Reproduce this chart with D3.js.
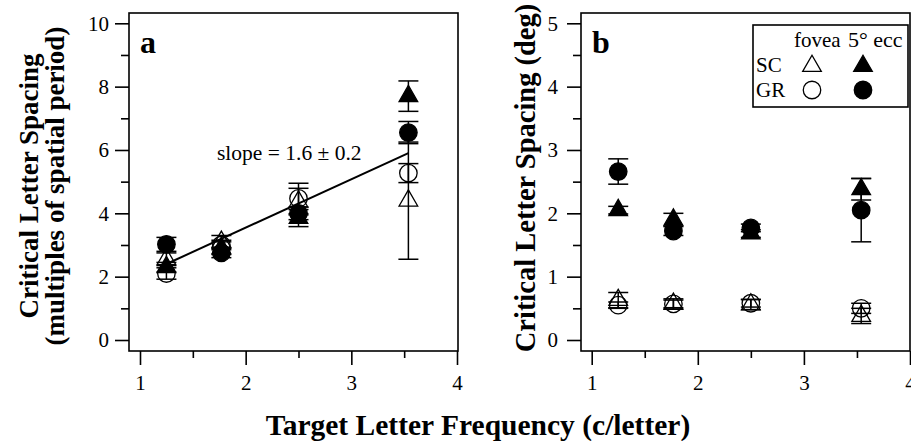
<!DOCTYPE html>
<html>
<head>
<meta charset="utf-8">
<script src="https://cdn.jsdelivr.net/npm/d3@7"></script>
<style>
  body { margin: 0; background: #fff; }
  svg { display: block; font-family: "Liberation Serif", serif; }
</style>
</head>
<body>
<svg id="chart" width="911" height="441"></svg>
<script>
// target letter frequencies (c/letter)
let freq = [1.25, 1.77, 2.5, 3.54];

// panel a: critical spacing in multiples of spatial period
let aScFovea = [2.55, 3.1, 4.37, 4.4],   aScFoveaErr = [0.2, 0.2, 0.42, 1.85];
let aSc5     = [2.3, 2.9, 3.85, 7.7],    aSc5Err     = [0.15, 0.2, 0.27, 0.48];
let aGrFovea = [2.1, 3.0, 4.47, 5.27],   aGrFoveaErr = [0.18, 0.15, 0.48, 0.3];
let aGr5     = [3.02, 2.75, 4.0, 6.55],  aGr5Err     = [0.22, 0.15, 0.2, 0.35];
let aFit = [[1.25, 2.4], [3.54, 5.9]];

// panel b: critical spacing in deg
let bScFovea = [0.63, 0.57, 0.56, 0.38], bScFoveaErr = [0.12, 0.08, 0.08, 0.12];
let bSc5     = [2.05, 1.9, 1.68, 2.38],  bSc5Err     = [0.06, 0.1, 0.06, 0.17];
let bGrFovea = [0.55, 0.57, 0.58, 0.5],  bGrFoveaErr = [0.05, 0.06, 0.06, 0.08];
let bGr5     = [2.66, 1.72, 1.77, 2.05], bGr5Err     = [0.2, 0.07, 0.06, 0.5];

let xTicks = [1, 2, 3, 4], xMinor = [1.5, 2.5, 3.5];

let svg = d3.select("#chart");

function drawPanel(p) {
  let x = d3.scaleLinear().domain([1, 4]).range(p.xRange);
  let y = d3.scaleLinear().domain([0, p.yMax]).range([340, 23.3]);
  let g = svg.append("g");

  // x ticks
  g.append("g").attr("transform", "translate(0," + p.bottom + ")")
      .call(d3.axisBottom(x).tickValues(xTicks).tickSize(14).tickPadding(10).tickFormat(d3.format("d")))
      .call(a => a.select(".domain").remove());
  g.append("g").attr("transform", "translate(0," + p.bottom + ")")
      .call(d3.axisBottom(x).tickValues(xMinor).tickSize(7).tickFormat(""))
      .call(a => a.select(".domain").remove());

  // y ticks
  g.append("g").attr("transform", "translate(" + p.left + ",0)")
      .call(d3.axisLeft(y).tickValues(d3.range(0, p.yMax + 0.01, p.yStep)).tickSize(14).tickPadding(p.yPad).tickFormat(d3.format("d")))
      .call(a => a.select(".domain").remove());
  g.append("g").attr("transform", "translate(" + p.left + ",0)")
      .call(d3.axisLeft(y).tickValues(d3.range(p.yStep / 2, p.yMax, p.yStep)).tickSize(8).tickFormat(""))
      .call(a => a.select(".domain").remove());

  g.selectAll("g").attr("font-family", null).attr("font-size", null);
  g.selectAll(".tick line").attr("stroke", "#000").attr("stroke-width", 1.6);
  g.selectAll(".tick text").attr("font-size", 21).attr("fill", "#000");

  // frame
  g.append("rect")
      .attr("x", p.left).attr("y", p.top)
      .attr("width", p.right - p.left).attr("height", p.bottom - p.top)
      .attr("fill", "none").attr("stroke", "#000").attr("stroke-width", 1.6);

  // fit line
  if (p.fit) {
    g.append("path")
        .attr("d", d3.line().x(d => x(d[0])).y(d => y(d[1]))(p.fit))
        .attr("fill", "none").attr("stroke", "#000").attr("stroke-width", 2);
  }

  p.series.forEach(s => {
    let pts = freq.map((f, i) => ({ f: f, v: s.vals[i], e: s.err[i] }));
    let eb = g.append("g").attr("stroke", "#000").attr("stroke-width", 1.5);
    eb.selectAll(".v").data(pts).join("line")
        .attr("x1", d => x(d.f)).attr("x2", d => x(d.f))
        .attr("y1", d => y(d.v - d.e)).attr("y2", d => y(d.v + d.e));
    eb.selectAll(".c1").data(pts).join("line").attr("class", "c1")
        .attr("x1", d => x(d.f) - 10).attr("x2", d => x(d.f) + 10)
        .attr("y1", d => y(d.v + d.e)).attr("y2", d => y(d.v + d.e));
    eb.selectAll(".c2").data(pts).join("line").attr("class", "c2")
        .attr("x1", d => x(d.f) - 10).attr("x2", d => x(d.f) + 10)
        .attr("y1", d => y(d.v - d.e)).attr("y2", d => y(d.v - d.e));
  });

  p.series.forEach(s => {
    let pts = freq.map((f, i) => ({ f: f, v: s.vals[i] }));
    g.append("g").selectAll("path").data(pts).join("path")
        .attr("transform", d => "translate(" + x(d.f) + "," + y(d.v) + ")")
        .attr("d", marker(s.shape))
        .attr("fill", s.filled ? "#000" : "none")
        .attr("stroke", "#000").attr("stroke-width", 1.3);
  });

  // panel letter
  g.append("text").attr("x", p.left + 11).attr("y", 53)
      .attr("font-size", 32).attr("font-weight", "bold").text(p.id);
}

function marker(shape) {
  return shape === "tri"
    ? d3.symbol(d3.symbolTriangle, 150)()
    : d3.symbol(d3.symbolCircle, 240)();
}

drawPanel({
  id: "a", left: 129, right: 458, top: 13, bottom: 351, xRange: [140, 457],
  yMax: 10, yStep: 2, yPad: 6, fit: aFit,
  series: [
    { vals: aGrFovea, err: aGrFoveaErr, shape: "circle", filled: false },
    { vals: aScFovea, err: aScFoveaErr, shape: "tri", filled: false },
    { vals: aGr5, err: aGr5Err, shape: "circle", filled: true },
    { vals: aSc5, err: aSc5Err, shape: "tri", filled: true }
  ]
});

drawPanel({
  id: "b", left: 581, right: 910, top: 13, bottom: 351, xRange: [591.7, 910],
  yMax: 5, yStep: 1, yPad: 9,
  series: [
    { vals: bGrFovea, err: bGrFoveaErr, shape: "circle", filled: false },
    { vals: bScFovea, err: bScFoveaErr, shape: "tri", filled: false },
    { vals: bGr5, err: bGr5Err, shape: "circle", filled: true },
    { vals: bSc5, err: bSc5Err, shape: "tri", filled: true }
  ]
});

// slope annotation
svg.append("text").attr("x", 217).attr("y", 160).attr("font-size", 21.5)
    .text("slope = 1.6 \u00b1 0.2");

// legend
let leg = svg.append("g");
leg.append("rect").attr("x", 753).attr("y", 25).attr("width", 155).attr("height", 82)
    .attr("fill", "#fff").attr("stroke", "#000").attr("stroke-width", 1.6);
leg.append("text").attr("x", 794).attr("y", 47).attr("font-size", 21).text("fovea");
leg.append("text").attr("x", 848).attr("y", 47).attr("font-size", 22).text("5\u00b0 ecc");
leg.append("text").attr("x", 756).attr("y", 72).attr("font-size", 21).text("SC");
leg.append("text").attr("x", 756).attr("y", 97).attr("font-size", 21).text("GR");
[[812, 66, "tri", false], [863, 66, "tri", true], [812, 90, "circle", false], [863, 90, "circle", true]]
  .forEach(m => {
    leg.append("path").attr("transform", "translate(" + m[0] + "," + m[1] + ")")
        .attr("d", marker(m[2])).attr("fill", m[3] ? "#000" : "none")
        .attr("stroke", "#000").attr("stroke-width", 1.3);
  });

// axis titles
let ta = svg.append("text").attr("transform", "translate(38,186) rotate(-90)")
    .attr("text-anchor", "middle").attr("font-size", 27).attr("font-weight", "bold");
ta.append("tspan").attr("x", 0).attr("y", 0).text("Critical Letter Spacing");
ta.append("tspan").attr("x", 0).attr("y", 26).text("(multiples of spatial period)");

svg.append("text").attr("transform", "translate(535,178) rotate(-90)")
    .attr("text-anchor", "middle").attr("font-size", 28.5).attr("font-weight", "bold")
    .text("Critical Letter Spacing (deg)");

svg.append("text").attr("x", 478).attr("y", 435)
    .attr("text-anchor", "middle").attr("font-size", 29.5).attr("font-weight", "bold")
    .text("Target Letter Frequency (c/letter)");
</script>
</body>
</html>
